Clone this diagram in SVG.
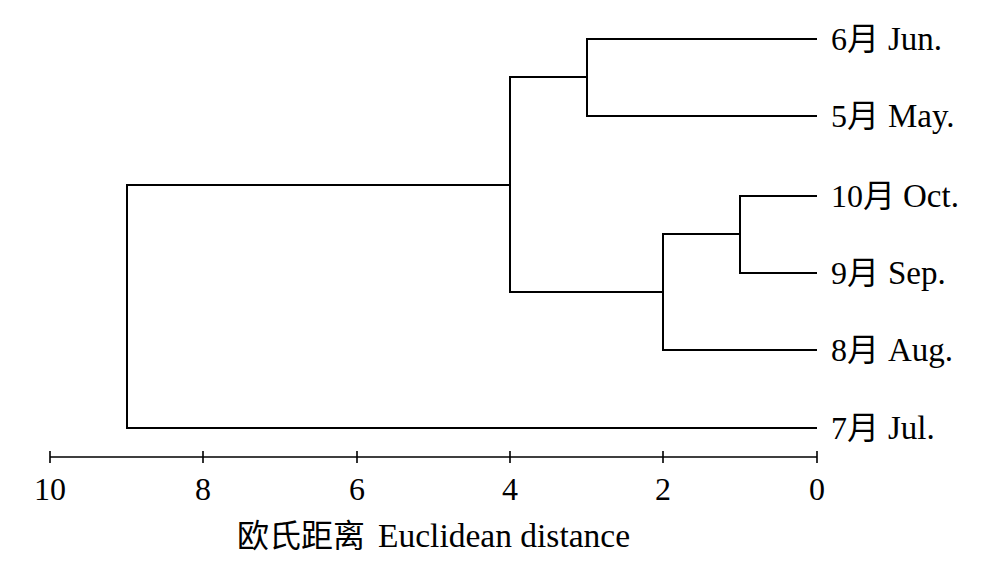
<svg xmlns="http://www.w3.org/2000/svg" width="986" height="570" viewBox="0 0 986 570">
<style>
.t{fill:none;stroke:#000;stroke-width:2}
.ax{fill:none;stroke:#000;stroke-width:1.6}
text{font-family:"Liberation Serif","Noto Sans CJK SC",serif;font-size:32px;fill:#000}
.tk{text-anchor:middle}
.lat{font-size:33px}
</style>
<rect width="986" height="570" fill="#fff"/>
<g id="connectors">
<path class="t" d="M817,39H587V116H817"/>
<path class="t" d="M817,196H740V273H817"/>
<path class="t" d="M740,234H663V350H817"/>
<path class="t" d="M587,77H510V292H663"/>
<path class="t" d="M510,185H127V428H817"/>
</g>
<g id="leaf-jun"><text x="831" y="50">6月 <tspan x="888" class="lat">Jun.</tspan></text></g>
<g id="leaf-may"><text x="831" y="127">5月 <tspan x="888" class="lat">May.</tspan></text></g>
<g id="leaf-oct"><text x="831" y="207">10月 <tspan x="903" class="lat">Oct.</tspan></text></g>
<g id="leaf-sep"><text x="831" y="284">9月 <tspan x="888" class="lat">Sep.</tspan></text></g>
<g id="leaf-aug"><text x="831" y="361">8月 <tspan x="888" class="lat">Aug.</tspan></text></g>
<g id="leaf-jul"><text x="831" y="439">7月 <tspan x="888" class="lat">Jul.</tspan></text></g>
<g id="axis">
<path class="ax" d="M50,457H817M50,451V463M203,451V463M357,451V463M510,451V463M663,451V463M817,451V463"/>
<text class="tk" x="50" y="500">10</text>
<text class="tk" x="203" y="500">8</text>
<text class="tk" x="357" y="500">6</text>
<text class="tk" x="510" y="500">4</text>
<text class="tk" x="663" y="500">2</text>
<text class="tk" x="817" y="500">0</text>
<text x="237" y="547">欧氏距离 <tspan x="378" font-size="33.5">Euclidean distance</tspan></text>
</g>
</svg>
